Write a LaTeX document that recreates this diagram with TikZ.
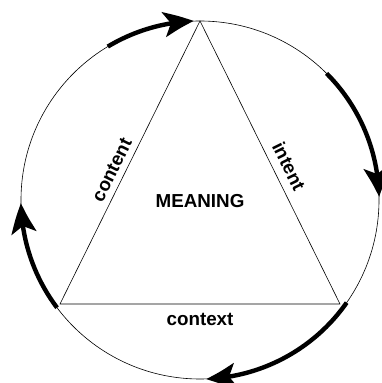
\documentclass[tikz,border=0pt]{standalone}
\usepackage{fontspec}
\setmainfont{Liberation Sans}
\usetikzlibrary{arrows.meta,bending,calc}
\begin{document}
\begin{tikzpicture}[x=1pt,y=1pt,
  thinline/.style={line width=0.6pt},
  cyclearrow/.style={line width=4.4pt,-{Stealth[length=30pt,width=25pt,inset=7pt,bend]}},
  lbl/.style={font=\fontsize{18.8}{21}\selectfont\bfseries,inner sep=0pt}]
\useasboundingbox (0,0) rectangle (382,383);
\coordinate (c) at (200,183);
\coordinate (top) at (200,362);
\coordinate (bl) at (60,79);
\coordinate (br) at (340,79);
% circle
\draw[thinline] (c) circle (179);
% triangle
\draw[thinline] (top) -- (br) -- (bl) -- cycle;
% arrows
\draw[cyclearrow] ($(c)+(121:179)$) arc (121:92:179);
\draw[cyclearrow] ($(c)+(45:179)$) arc (45:1:179);
\draw[cyclearrow] ($(c)+(-35:179)$) arc (-35:-88:179);
\draw[cyclearrow] ($(c)+(217:179)$) arc (217:181:179);
% labels
\node[lbl] (meaning) at (200,182) {MEANING};
\node[lbl,anchor=base] (context) at (200,57) {context};
\node[lbl,rotate=63.7] (content) at (112,213) {content};
\node[lbl,rotate=-63.7] (intent) at (289,217) {intent};
\end{tikzpicture}
\end{document}
